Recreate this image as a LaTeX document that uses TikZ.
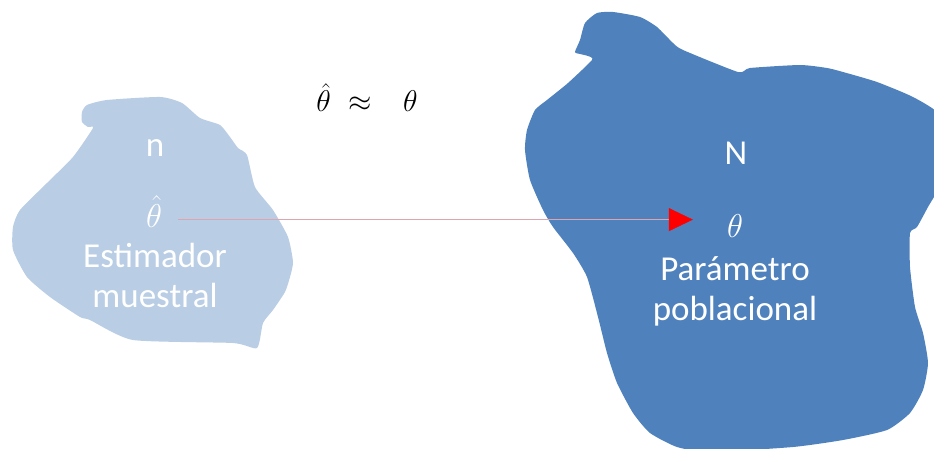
\RequirePackage{fix-cm}
\documentclass[tikz,border=0pt]{standalone}
\usepackage{amsmath,amssymb}
\usepackage{fontspec}
\setmainfont{Carlito}
\usepackage{tikz}
\usetikzlibrary{arrows.meta, positioning, calc}
\definecolor{smpblue}{RGB}{185,205,228}
\definecolor{popblue}{RGB}{79,129,189}
\definecolor{linkred}{RGB}{222,165,175}

\tikzset{
  lbl/.style={white, font=\fontsize{35}{39.5}\selectfont, inner sep=0pt, align=center},
  mathlbl/.style={white, font=\fontsize{33}{39}\selectfont, inner sep=0pt},
  link/.style={linkred, line width=0.4pt, -{Triangle[length=24pt, width=23pt, color=red]}}
}

\begin{document}
\begin{tikzpicture}[x=1pt, y=-1pt]
\useasboundingbox (0,0) rectangle (934,449);
\clip (0,0) rectangle (934,449);

% ---- sample blob ----
\fill[smpblue] plot[smooth cycle, tension=0.35] coordinates {
  (82,112) (87,105) (107,100) (160,97) (182,103) (200,118) (220,125)
  (230,137) (238,148) (247,155) (255,187) (273,210) (288,237) (293,262)
  (290,277) (285,292) (273,310) (263,323) (257,348) (233,343) (133,340)
  (90,320) (80,317) (50,297) (27,277) (13,250) (13,227) (20,210)
  (47,183) (73,157) (93,128) (88,127) (82,122)};

% ---- population blob ----
\fill[popblue] plot[smooth cycle, tension=0.35] coordinates {
  (575,52) (580,40) (585,23) (597,13) (613,12) (640,17) (657,27)
  (673,43) (683,50) (738,72) (750,68) (800,65) (827,68) (843,72)
  (877,82) (913,97) (940,115) (944,150) (940,185) (928,207) (917,227)
  (910,233) (910,267) (915,307) (923,333) (928,363) (923,390) (910,413)
  (887,430) (843,440) (793,447) (710,452) (677,447) (650,433) (633,413)
  (617,383) (607,353) (598,317) (587,277) (573,253) (553,227) (543,210)
  (530,180) (525,150) (527,130) (535,110) (547,100) (568,83) (592,60)
  (588,56) (580,54)};

% top relation
\node[black, font=\fontsize{30}{36}\selectfont, inner sep=0pt, anchor=base] (rel) at (367,112)
  {$\hat{\theta}$\hspace{18pt}$\approx$\hspace{31pt}$\theta$};

% sample labels
\node[lbl, anchor=base] (nsize) at (155,157) {n};
\node[mathlbl, anchor=base] (esttheta) at (154,227) {$\hat{\theta}$};
\node[lbl, anchor=base] (estlbl) at (155,307) {Estimador\\muestral};

% population labels
\node[lbl, anchor=base] (Nsize) at (736,165) {N};
\node[mathlbl, anchor=base] (partheta) at (735,237) {$\theta$};
\node[lbl, anchor=base] (parlbl) at (735,320) {Parámetro\\poblacional};

% estimate -> parameter
\draw[link, shorten <=16pt, shorten >=34pt]
  ([yshift=5pt]esttheta.mid east) -- ([yshift=5pt]esttheta.mid east -| partheta.west);
\end{tikzpicture}
\end{document}
